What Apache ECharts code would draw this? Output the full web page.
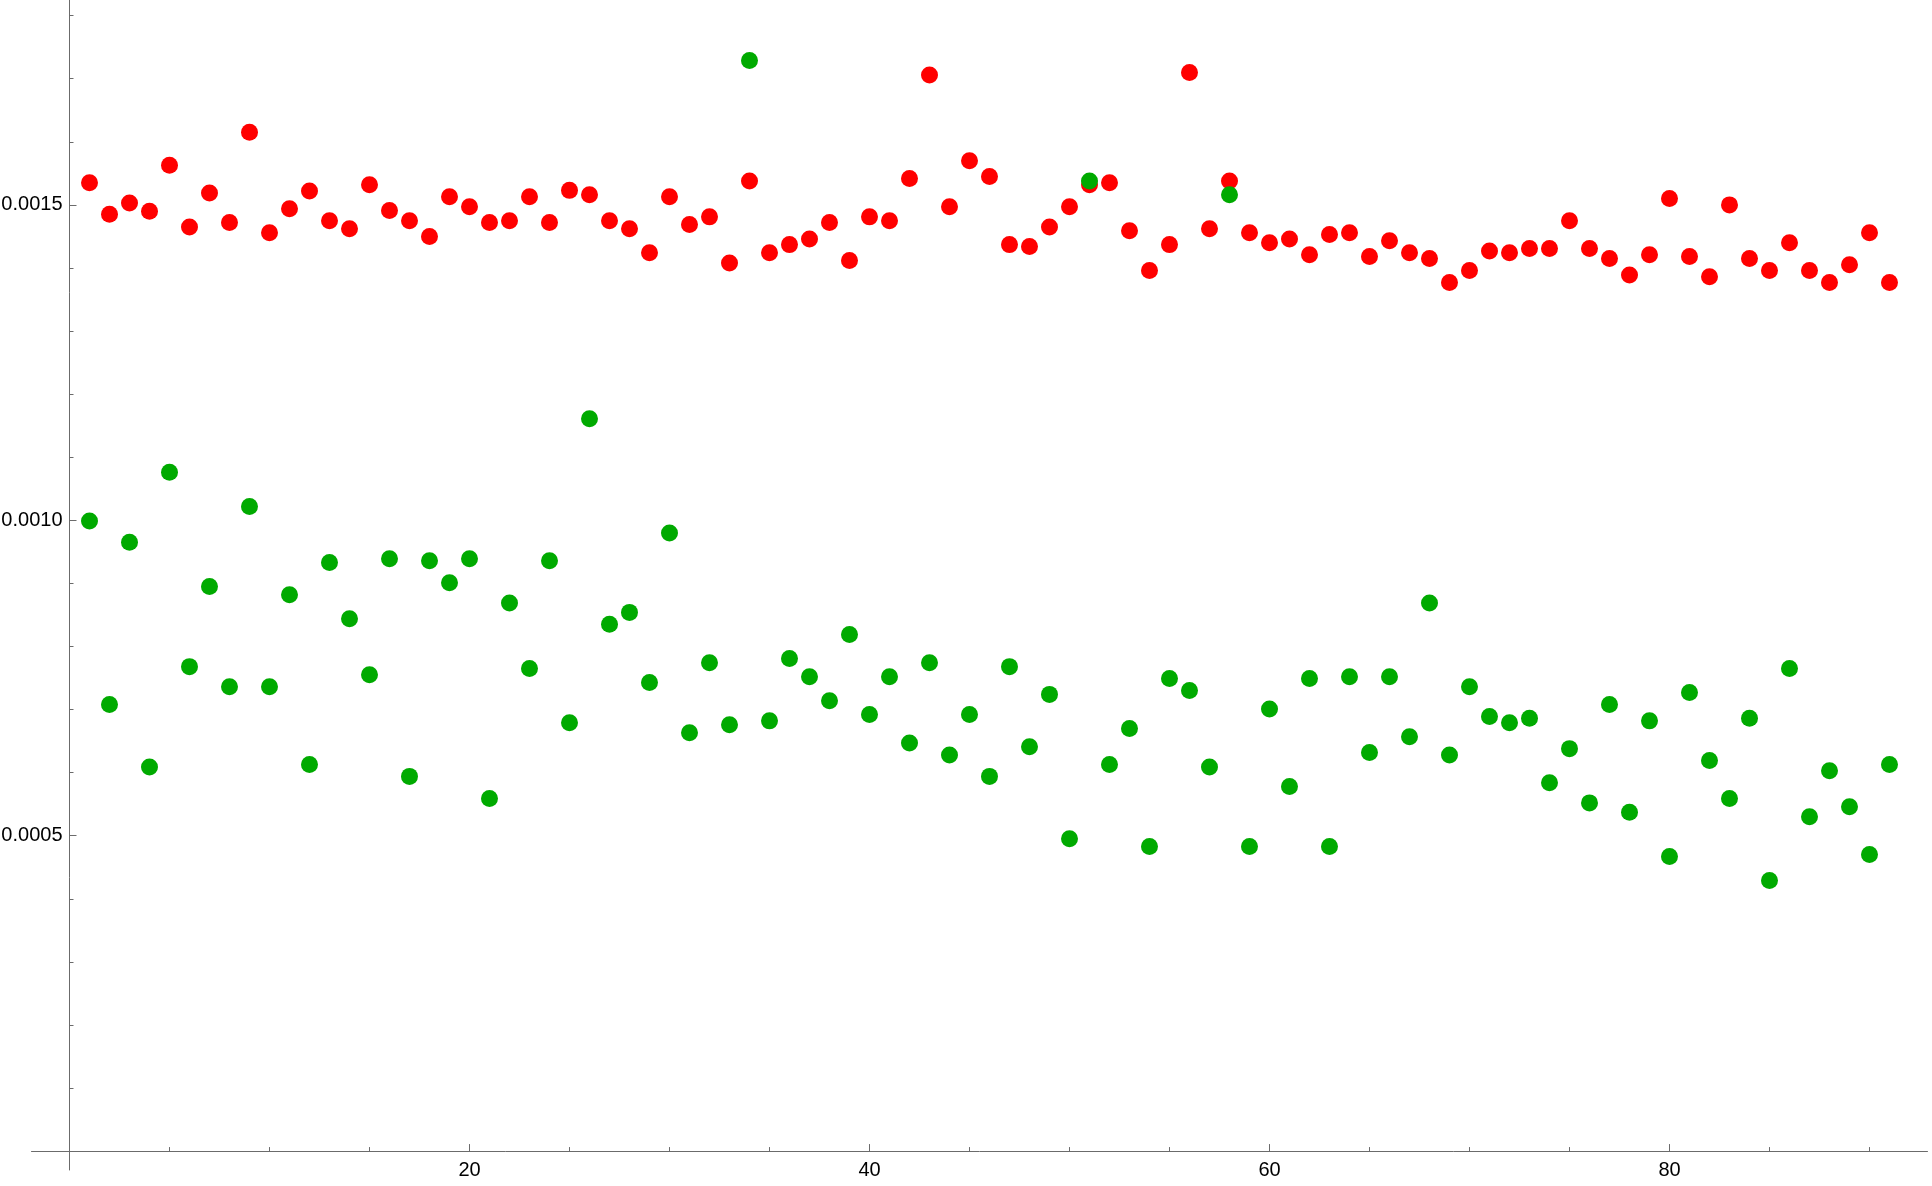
<!DOCTYPE html>
<html>
<head>
<meta charset="utf-8">
<script src="https://cdn.jsdelivr.net/npm/echarts@6/dist/echarts.min.js"></script>
<style>
html,body{margin:0;padding:0;background:#fff;}
#chart{width:1932px;height:1186px;}
</style>
</head>
<body>
<div id="chart"></div>
<script>
// x positions (index 1..91)
const indices = Array.from({length: 91}, (_, k) => k + 1);

const redValues = [0.001535,0.001485,0.001503,0.001490,0.001563,0.001465,0.001519,0.001472,0.001615,0.001456,
0.001494,0.001522,0.001475,0.001462,0.001532,0.001491,0.001475,0.001450,0.001513,0.001497,
0.001472,0.001475,0.001513,0.001472,0.001523,0.001516,0.001475,0.001462,0.001424,0.001513,
0.001469,0.001481,0.001408,0.001538,0.001424,0.001437,0.001446,0.001472,0.001412,0.001481,
0.001475,0.001542,0.001706,0.001497,0.001570,0.001545,0.001437,0.001434,0.001465,0.001497,
0.001532,0.001535,0.001459,0.001396,0.001437,0.001710,0.001462,0.001538,0.001456,0.001440,
0.001446,0.001421,0.001453,0.001456,0.001418,0.001443,0.001424,0.001415,0.001377,0.001396,
0.001427,0.001424,0.001431,0.001431,0.001475,0.001431,0.001415,0.001389,0.001421,0.001510,
0.001418,0.001386,0.001500,0.001415,0.001396,0.001440,0.001396,0.001377,0.001405,0.001456,
0.001377];

const greenValues = [0.000999,0.000708,0.000965,0.000609,0.001076,0.000768,0.000895,0.000736,0.001022,0.000736,
0.000882,0.000613,0.000933,0.000844,0.000755,0.000939,0.000594,0.000936,0.000901,0.000939,
0.000559,0.000869,0.000765,0.000936,0.000679,0.001161,0.000835,0.000854,0.000743,0.000980,
0.000663,0.000774,0.000676,0.001729,0.000682,0.000781,0.000752,0.000714,0.000819,0.000692,
0.000752,0.000647,0.000774,0.000628,0.000692,0.000594,0.000768,0.000641,0.000724,0.000495,
0.001538,0.000613,0.000670,0.000483,0.000749,0.000730,0.000609,0.001516,0.000483,0.000701,
0.000578,0.000749,0.000483,0.000752,0.000632,0.000752,0.000657,0.000869,0.000628,0.000736,
0.000689,0.000679,0.000686,0.000584,0.000638,0.000552,0.000708,0.000537,0.000682,0.000467,
0.000727,0.000619,0.000559,0.000686,0.000429,0.000765,0.000530,0.000603,0.000546,0.000470,
0.000613];

const xMajorTicks = [20, 40, 60, 80];
const xMinorTicks = [5, 10, 15, 25, 30, 35, 45, 50, 55, 65, 70, 75, 85, 90];
const yMajorTicks = [0.0005, 0.0010, 0.0015];
const yMinorTicks = [0.0001, 0.0002, 0.0003, 0.0004, 0.0006, 0.0007, 0.0008, 0.0009,
                     0.0011, 0.0012, 0.0013, 0.0014, 0.0016, 0.0017, 0.0018];

const axisColor = '#6b6b6b';
const X_MIN = -1.9, X_MAX = 92.9;
const Y_MIN = -0.00003, Y_MAX = 0.0018248;

const chart = echarts.init(document.getElementById('chart'), null, {renderer: 'canvas'});

const redData = indices.map((x, k) => [x, redValues[k]]);
const greenData = indices.map((x, k) => [x, greenValues[k]]);

const option = {
  animation: false,
  backgroundColor: '#ffffff',
  grid: {left: 31.5, right: 4.5, top: 0, bottom: 16, containLabel: false, outerBoundsMode: 'none'},
  xAxis: [{
    type: 'value', min: X_MIN, max: X_MAX, position: 'bottom',
    axisLine: {show: true, onZero: true, onZeroAxisIndex: 0, lineStyle: {color: axisColor, width: 1}},
    axisTick: {show: true, inside: true, length: 7, customValues: xMajorTicks, lineStyle: {color: axisColor}},
    axisLabel: {show: true, customValues: xMajorTicks, margin: -10, color: '#000', fontSize: 20,
                fontFamily: 'Liberation Sans, Arial, sans-serif'},
    splitLine: {show: false}
  }, {
    type: 'value', min: X_MIN, max: X_MAX, position: 'bottom',
    axisLine: {show: false, onZero: true, onZeroAxisIndex: 0},
    axisTick: {show: true, inside: true, length: 4, customValues: xMinorTicks, lineStyle: {color: axisColor}},
    axisLabel: {show: false},
    splitLine: {show: false}
  }],
  yAxis: [{
    type: 'value', min: Y_MIN, max: Y_MAX, position: 'left',
    axisLine: {show: true, onZero: true, onZeroAxisIndex: 0, lineStyle: {color: axisColor, width: 1}},
    axisTick: {show: true, inside: true, length: 7, customValues: yMajorTicks, lineStyle: {color: axisColor}},
    axisLabel: {show: true, customValues: yMajorTicks, margin: -31, color: '#000', fontSize: 20,
                fontFamily: 'Liberation Sans, Arial, sans-serif',
                formatter: v => v.toFixed(4)},
    splitLine: {show: false}
  }, {
    type: 'value', min: Y_MIN, max: Y_MAX, position: 'left',
    axisLine: {show: false, onZero: true, onZeroAxisIndex: 0},
    axisTick: {show: true, inside: true, length: 4, customValues: yMinorTicks, lineStyle: {color: axisColor}},
    axisLabel: {show: false},
    splitLine: {show: false}
  }],
  series: [{
    name: 'red', type: 'scatter', xAxisIndex: 0, yAxisIndex: 0,
    data: redData, symbol: 'circle', symbolSize: 17,
    itemStyle: {color: '#ff0000', opacity: 1}
  }, {
    name: 'green', type: 'scatter', xAxisIndex: 0, yAxisIndex: 0,
    data: greenData, symbol: 'circle', symbolSize: 17,
    itemStyle: {color: '#00aa00', opacity: 1}
  }]
};
chart.setOption(option);
</script>
</body>
</html>
